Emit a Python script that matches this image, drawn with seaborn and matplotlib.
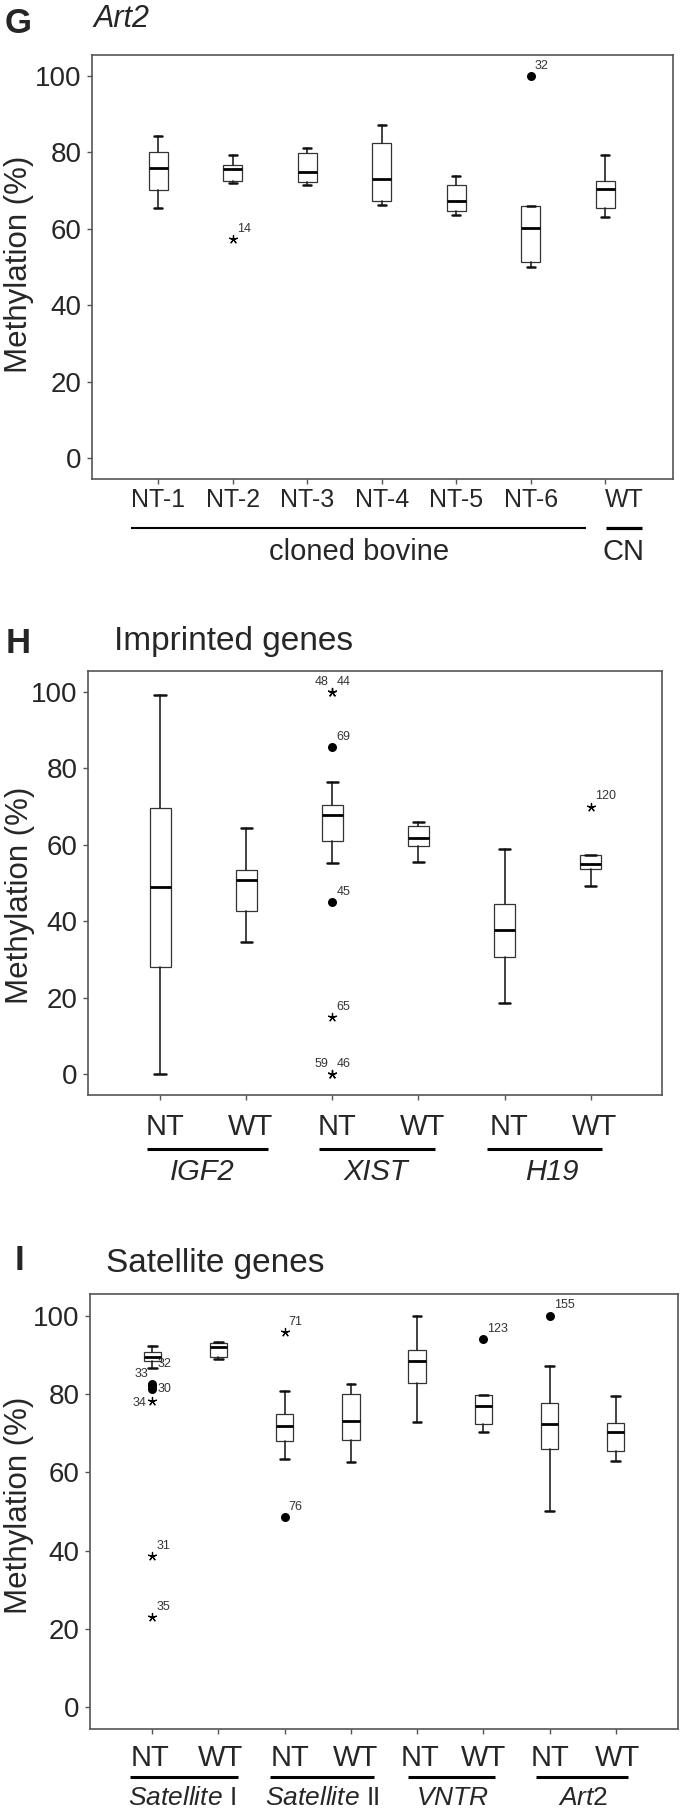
import matplotlib
matplotlib.use('Agg')
import matplotlib.pyplot as plt
import matplotlib.transforms as mtransforms
import pandas as pd
import seaborn as sns

sns.set_style('white')
plt.rcParams['font.family'] = ['Liberation Sans', 'DejaVu Sans']
plt.rcParams['mathtext.fontset'] = 'custom'
plt.rcParams['mathtext.it'] = 'Liberation Sans:italic'
plt.rcParams['mathtext.rm'] = 'Liberation Sans'

# painel G - Art2 nos clones
g_grupos = ['NT-1', 'NT-2', 'NT-3', 'NT-4', 'NT-5', 'NT-6', 'WT']
g_whislo = [65.5, 72.0, 71.4, 66.3, 63.6, 50.1, 63.0]
g_q1 = [70.1, 72.4, 72.3, 67.4, 64.6, 51.4, 65.5]
g_med = [76.0, 75.7, 75.0, 73.0, 67.4, 60.3, 70.3]
g_q3 = [80.2, 76.8, 79.9, 82.4, 71.5, 65.9, 72.6]
g_whishi = [84.3, 79.3, 81.2, 87.2, 73.7, 65.9, 79.4]
g_out_pos = [1, 5]
g_out_val = [57.2, 100.0]
g_out_marca = ['*', 'o']
g_out_rotulo = ['14', '32']
g_out_lugar = ['ur', 'ur']

# painel H - genes imprinted
h_grupos = ['NT', 'WT', 'NT', 'WT', 'NT', 'WT']
h_genes = ['IGF2', 'XIST', 'H19']
h_whislo = [0.0, 34.6, 55.3, 55.6, 18.6, 49.1]
h_q1 = [28.0, 42.8, 61.0, 59.6, 30.6, 53.6]
h_med = [48.9, 50.7, 67.7, 61.7, 37.7, 55.0]
h_q3 = [69.7, 53.5, 70.3, 64.8, 44.6, 57.4]
h_whishi = [99.1, 64.5, 76.5, 66.1, 59.0, 57.4]
h_out_pos = [2, 2, 2, 2, 2, 2, 2, 5]
h_out_val = [100.0, 100.0, 85.5, 45.0, 14.8, 0.0, 0.0, 70.0]
h_out_marca = ['*', '*', 'o', 'o', '*', '*', '*', '*']
h_out_rotulo = ['48', '44', '69', '45', '65', '59', '46', '120']
h_out_lugar = ['ul', 'ur', 'ur', 'ur', 'ur', 'ul', 'ur', 'ur']

# painel I - genes satelite
i_grupos = ['NT', 'WT', 'NT', 'WT', 'NT', 'WT', 'NT', 'WT']
i_genes = [r'$\mathit{Satellite}$ I', r'$\mathit{Satellite}$ II', r'$\mathit{VNTR}$', r'$\mathit{Art2}$']
i_whislo = [86.6, 88.9, 63.4, 62.6, 72.8, 70.4, 50.0, 62.8]
i_q1 = [88.3, 89.4, 68.1, 68.3, 82.9, 72.3, 66.0, 65.4]
i_med = [89.4, 92.1, 71.9, 73.0, 88.3, 77.0, 72.3, 70.3]
i_q3 = [90.8, 93.1, 75.0, 79.9, 91.1, 79.7, 77.6, 72.5]
i_whishi = [92.2, 93.2, 80.7, 82.6, 100.0, 79.7, 87.1, 79.4]
i_out_pos = [0, 0, 0, 0, 0, 0, 0, 2, 2, 5, 6]
i_out_val = [87.7, 82.6, 81.9, 81.2, 78.1, 38.7, 23.0, 95.8, 48.6, 94.0, 100.0]
i_out_marca = ['', 'o', 'o', 'o', '*', '*', '*', '*', 'o', 'o', 'o']
i_out_rotulo = ['32', '33', '', '30', '34', '31', '35', '71', '76', '123', '155']
i_out_lugar = ['r', 'ul', 'r', 'r', 'l', 'ur', 'ur', 'ur', 'ur', 'ur', 'ur']

W, H = 680, 1809
fig = plt.figure(figsize=(W / 100, H / 100), dpi=100)


def fy(px):
    return 1 - px / H


def eixo(esq, topo, dir, base):
    return fig.add_axes([esq / W, 1 - base / H, (dir - esq) / W, (base - topo) / H])


offsets = {'ur': ((3, 3), 'left', 'bottom'), 'ul': ((-3, 3), 'right', 'bottom'),
           'r': ((4, 0), 'left', 'center'), 'l': ((-4, -1), 'right', 'center')}


def painel(ax, whislo, q1, med, q3, whishi, largura, cap, xlim):
    stats = [dict(whislo=a, q1=b, med=c, q3=d, whishi=e, fliers=[])
             for a, b, c, d, e in zip(whislo, q1, med, q3, whishi)]
    n = len(stats)
    ax.bxp(stats, positions=list(range(n)), widths=largura, capwidths=cap,
           patch_artist=True, showfliers=False, manage_ticks=False,
           boxprops=dict(facecolor='white', edgecolor='#333333', linewidth=0.9),
           medianprops=dict(color='black', linewidth=2.0),
           whiskerprops=dict(color='#222222', linewidth=1.2),
           capprops=dict(color='#111111', linewidth=1.8))
    ax.set_xlim(*xlim)
    ax.set_ylim(-5.5, 105.5)
    ax.set_yticks(range(0, 101, 20))
    ax.set_xticks(range(n))
    ax.tick_params(axis='y', left=True, labelsize=20, length=3.6, width=1,
                   color='#555555', pad=4)
    ax.tick_params(axis='x', bottom=True, labelbottom=False, length=3.6, width=1,
                   color='#555555')
    for s in ax.spines.values():
        s.set_color('#555555')
        s.set_linewidth(1.2)


def outliers(ax, pos, val, marca, rotulo, lugar):
    df = pd.DataFrame(dict(pos=pos, val=val, marca=marca))
    pontos = df[df.marca == 'o']
    estrelas = df[df.marca == '*']
    sns.scatterplot(data=pontos, x='pos', y='val', ax=ax, color='black', s=42,
                    marker='o', linewidth=0, zorder=5, legend=False)
    sns.scatterplot(data=estrelas, x='pos', y='val', ax=ax, color='black', s=34,
                    marker=(5, 2, 0), linewidth=0.9, zorder=5, legend=False)
    for p, v, r, l in zip(pos, val, rotulo, lugar):
        if not r:
            continue
        off, ha, va = offsets[l]
        ax.annotate(r, (p, v), xytext=off, textcoords='offset points',
                    fontsize=9, color='#333333', ha=ha, va=va)
    ax.set_xlabel('')


def rotulos_abaixo(ax, xs, ys_px, textos, **kw):
    tr = mtransforms.blended_transform_factory(ax.transData, fig.transFigure)
    for x, t in zip(xs, textos):
        ax.text(x, fy(ys_px), t, transform=tr, ha='center', va='center', clip_on=False, **kw)


def linha_abaixo(ax, x0, x1, y_px, lw):
    tr = mtransforms.blended_transform_factory(ax.transData, fig.transFigure)
    ax.plot([x0, x1], [fy(y_px), fy(y_px)], transform=tr, color='black', lw=lw,
            clip_on=False, solid_capstyle='butt')


# ---- G
axg = eixo(92, 55, 673, 479)
painel(axg, g_whislo, g_q1, g_med, g_q3, g_whishi, 0.26, 0.11, (-0.89, 6.91))
outliers(axg, g_out_pos, g_out_val, g_out_marca, g_out_rotulo, g_out_lugar)
axg.set_ylabel('Methylation (%)', fontsize=22.5)
axg.yaxis.set_label_coords(-0.10, 0.507)
xs_g = list(range(len(g_grupos) - 1)) + [6.25]
rotulos_abaixo(axg, xs_g, 500, g_grupos, fontsize=18)
linha_abaixo(axg, -0.36, 5.74, 528, 1.5)
linha_abaixo(axg, 6.01, 6.5, 528, 2.3)
rotulos_abaixo(axg, [2.7, 6.25], 552, ['cloned bovine', 'CN'], fontsize=21)
fig.text(5 / W, fy(33), 'G', fontsize=25, fontweight='bold', va='baseline')
fig.text(94 / W, fy(27), 'Art2', fontsize=22, style='italic', va='baseline')

# ---- H
axh = eixo(88, 671, 662, 1095)
painel(axh, h_whislo, h_q1, h_med, h_q3, h_whishi, 0.25, 0.135, (-0.84, 5.83))
outliers(axh, h_out_pos, h_out_val, h_out_marca, h_out_rotulo, h_out_lugar)
axh.set_ylabel('Methylation (%)', fontsize=22.5)
axh.yaxis.set_label_coords(-0.092, 0.47)
rotulos_abaixo(axh, [p + 0.05 for p in range(len(h_grupos))], 1127, h_grupos, fontsize=21)
for x0, x1 in [(-0.16, 1.25), (1.85, 3.19), (3.8, 5.13)]:
    linha_abaixo(axh, x0, x1, 1149, 2.2)
rotulos_abaixo(axh, [0.49, 2.5, 4.55], 1172, h_genes, fontsize=21, style='italic')
fig.text(6 / W, fy(653), 'H', fontsize=25, fontweight='bold', va='baseline')
fig.text(114 / W, fy(650), 'Imprinted genes', fontsize=24, va='baseline')

# ---- I
axi = eixo(90, 1294, 678, 1729)
painel(axi, i_whislo, i_q1, i_med, i_q3, i_whishi, 0.26, 0.13, (-0.94, 7.94))
outliers(axi, i_out_pos, i_out_val, i_out_marca, i_out_rotulo, i_out_lugar)
axi.set_ylabel('Methylation (%)', fontsize=22.5)
axi.yaxis.set_label_coords(-0.095, 0.515)
xs_i = [-0.03, 1.03, 2.08, 3.07, 4.05, 5.0, 6.0, 7.02]
rotulos_abaixo(axi, xs_i, 1758, i_grupos, fontsize=21)
for x0, x1 in [(-0.33, 1.3), (1.78, 3.35), (3.87, 5.17), (5.79, 7.19)]:
    linha_abaixo(axi, x0, x1, 1777, 2.2)
rotulos_abaixo(axi, [0.45, 2.57, 4.53, 6.51], 1798, i_genes, fontsize=19)
fig.text(15 / W, fy(1270), 'I', fontsize=25, fontweight='bold', va='baseline')
fig.text(106 / W, fy(1272), 'Satellite genes', fontsize=24, va='baseline')

fig.savefig('out.png', dpi=100)
